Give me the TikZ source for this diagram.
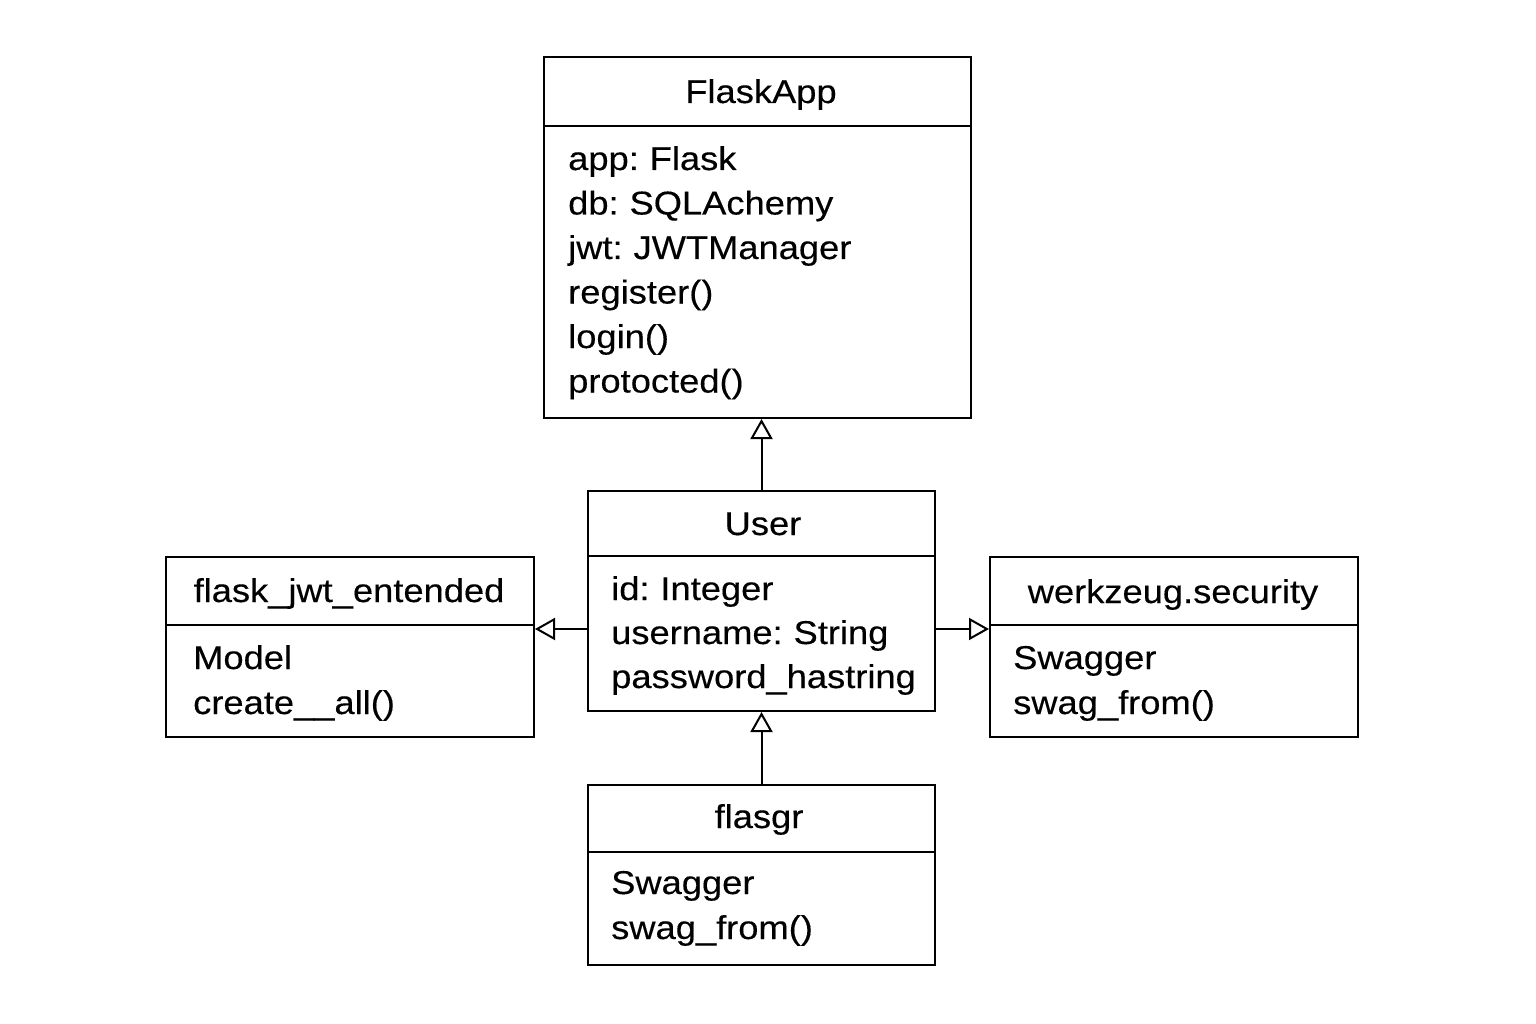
\documentclass[tikz,border=0pt]{standalone}
\usepackage{fontspec}
\setmainfont[FakeStretch=1.1,WordSpace=0.75,FakeBold=0.3]{Liberation Sans}
\usetikzlibrary{arrows.meta}
\begin{document}
\begin{tikzpicture}[x=1pt,y=-1pt,
  box/.style={draw=black, line width=2pt, rectangle, inner sep=0pt},
  divider/.style={draw=black, line width=2pt},
  txt/.style={inner sep=0pt, anchor=base west, font=\fontsize{33}{40}\selectfont},
  ttl/.style={inner sep=0pt, anchor=base, font=\fontsize{33}{40}\selectfont},
  inh/.style={draw=black, line width=2pt, -{Triangle[open,length=20pt,width=22pt]}}]
\useasboundingbox[fill=white] (0,0) rectangle (1536,1024);

% boxes
\node[box, minimum width=427pt, minimum height=361pt] (flask) at (757.5,237.5) {};
\node[box, minimum width=347pt, minimum height=220pt] (user) at (761.5,601) {};
\node[box, minimum width=368pt, minimum height=180pt] (jwt) at (350,647) {};
\node[box, minimum width=368pt, minimum height=180pt] (werk) at (1174,647) {};
\node[box, minimum width=347pt, minimum height=180pt] (flasgr) at (761.5,875) {};

% dividers
\draw[divider] (flask.west |- 0,126) -- (flask.east |- 0,126);
\draw[divider] (user.west |- 0,556) -- (user.east |- 0,556);
\draw[divider] (jwt.west |- 0,625) -- (jwt.east |- 0,625);
\draw[divider] (werk.west |- 0,625) -- (werk.east |- 0,625);
\draw[divider] (flasgr.west |- 0,852) -- (flasgr.east |- 0,852);

% FlaskApp
\node[ttl] (flaskT) at (761,103) {FlaskApp};
\node[txt] (f1) at (568,170) {app: Flask};
\node[txt] (f2) at (568,214.5) {db: SQLAchemy};
\node[txt] (f3) at (568,259) {jwt: JWTManager};
\node[txt] (f4) at (568,303.5) {register()};
\node[txt] (f5) at (568,348) {login()};
\node[txt] (f6) at (568,392.5) {protocted()};

% User
\node[ttl] (userT) at (763,535) {User};
\node[txt] (u1) at (611,600) {id: Integer};
\node[txt] (u2) at (611,644) {username: String};
\node[txt] (u3) at (611,688) {password\_hastring};

% flask_jwt_entended
\node[ttl] (jwtT) at (349,602) {flask\_jwt\_entended};
\node[txt] (j1) at (193,669) {Model};
\node[txt] (j2) at (193,714) {create\_\_all()};

% werkzeug.security
\node[ttl] (werkT) at (1173,603) {werkzeug.security};
\node[txt] (w1) at (1013,669) {Swagger};
\node[txt] (w2) at (1013,714) {swag\_from()};

% flasgr
\node[ttl] (flasgrT) at (759,828) {flasgr};
\node[txt] (g1) at (611,894) {Swagger};
\node[txt] (g2) at (611,939) {swag\_from()};

% connectors
\draw[inh] (user.north) -- (user.north |- flask.south);
\draw[inh] (user.west |- 0,629) -- (jwt.east |- 0,629);
\draw[inh] (user.east |- 0,629) -- (werk.west |- 0,629);
\draw[inh] (flasgr.north) -- (user.south);
\end{tikzpicture}
\end{document}
